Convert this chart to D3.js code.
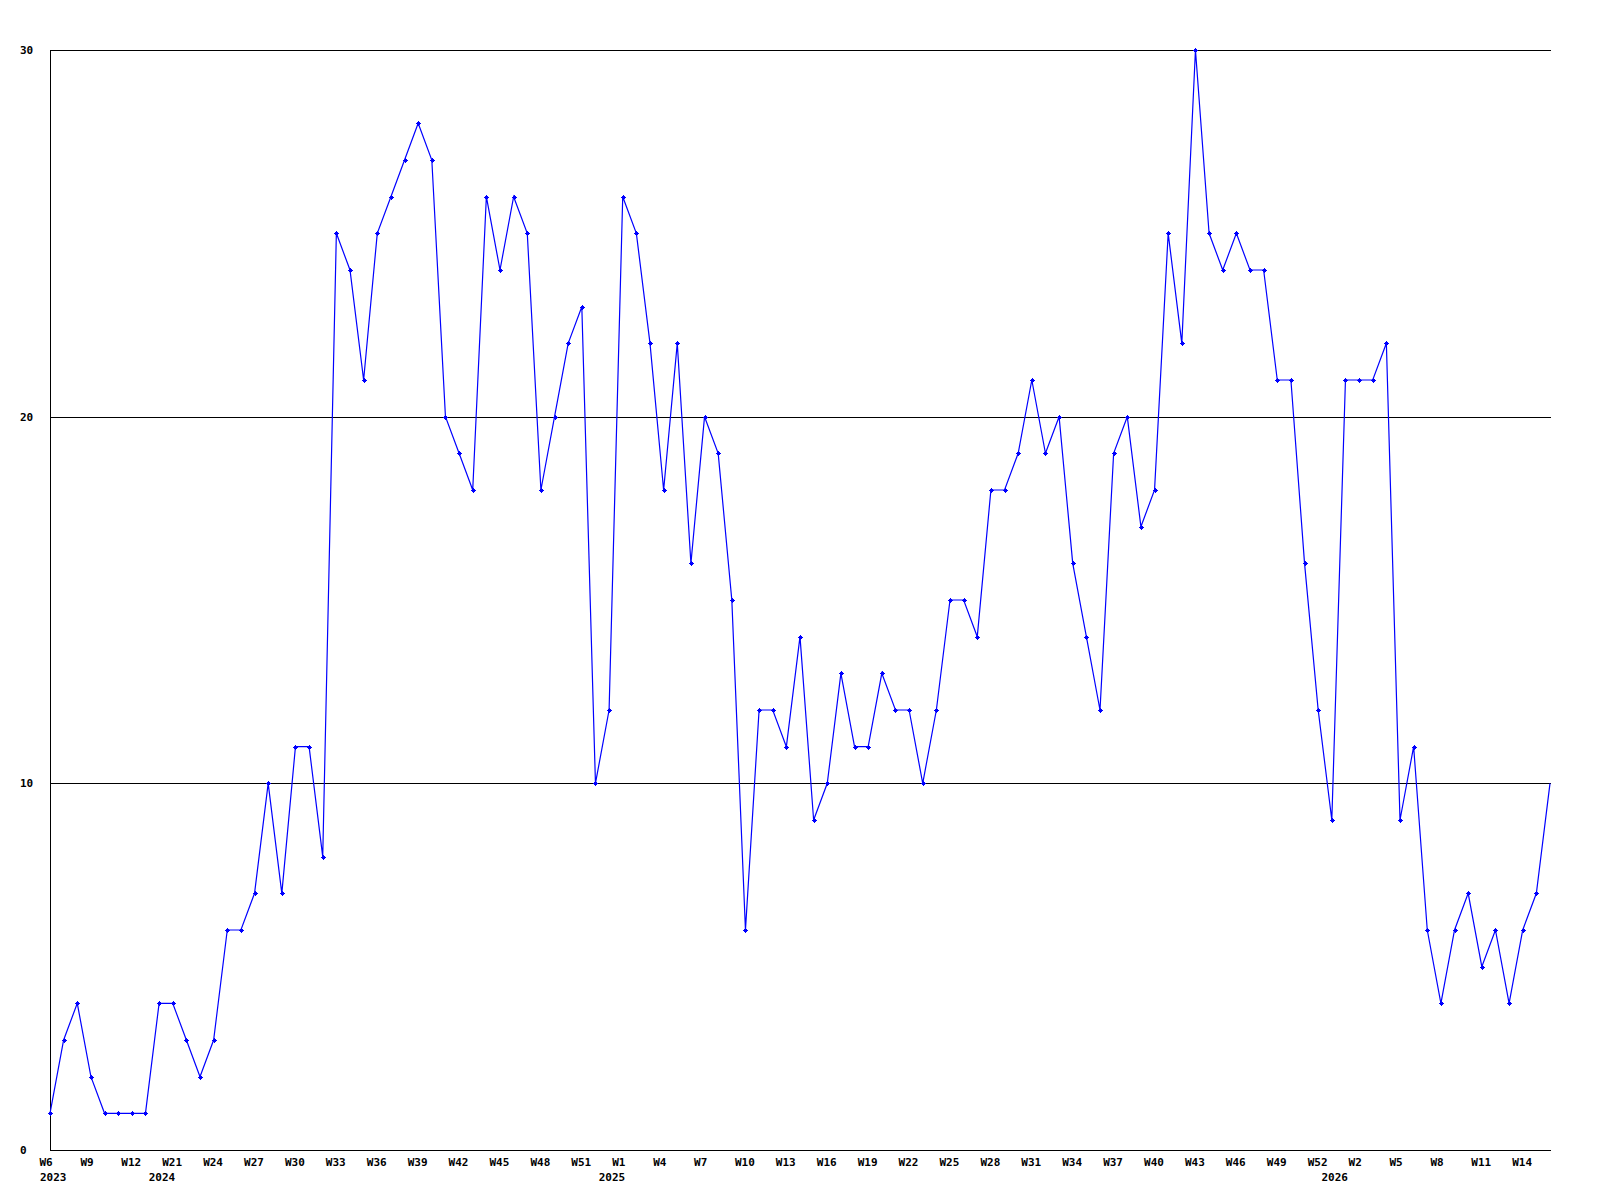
<!DOCTYPE html>
<html>
<head>
<meta charset="utf-8">
<script src="https://cdn.jsdelivr.net/npm/d3@7"></script>
<style>
  html, body { margin: 0; padding: 0; background: #ffffff; }
  svg { display: block; }
  text { font-family: "DejaVu Sans Mono", "Liberation Mono", monospace; font-weight: bold; font-size: 11px; fill: #000; }
</style>
</head>
<body>
<svg id="chart" width="1600" height="1200"></svg>
<script>
// Weekly values (one per point, 111 points)
const values = [
  1, 3, 4, 2, 1, 1, 1, 1, 4, 4,
  3, 2, 3, 6, 6, 7, 10, 7, 11, 11,
  8, 25, 24, 21, 25, 26, 27, 28, 27, 20,
  19, 18, 26, 24, 26, 25, 18, 20, 22, 23,
  10, 12, 26, 25, 22, 18, 22, 16, 20, 19,
  15, 6, 12, 12, 11, 14, 9, 10, 13, 11,
  11, 13, 12, 12, 10, 12, 15, 15, 14, 18,
  18, 19, 21, 19, 20, 16, 14, 12, 19, 20,
  17, 18, 25, 22, 30, 25, 24, 25, 24, 24,
  21, 21, 16, 12, 9, 21, 21, 21, 22, 9,
  11, 6, 4, 6, 7, 5, 6, 4, 6, 7,
  10
];
// Week tick labels, one every 3 points
const weekLabels = ["W6","W9","W12","W21","W24","W27","W30","W33","W36","W39",
  "W42","W45","W48","W51","W1","W4","W7","W10","W13","W16",
  "W19","W22","W25","W28","W31","W34","W37","W40","W43","W46",
  "W49","W52","W2","W5","W8","W11","W14"];
const tickStep = 3;
// Year labels and the point index where each year starts
const yearLabels = ["2023", "2024", "2025", "2026"];
const yearStartIndex = [0, 9, 42, 95];
// Y axis ticks
const yTicks = [0, 10, 20, 30];

const svg = d3.select("#chart");
const plotLeft = 50, plotRight = 1550, plotTop = 50, plotBottom = 1150;

const x = d3.scaleLinear().domain([0, values.length - 1]).range([plotLeft, plotRight]);
const y = d3.scaleLinear().domain([0, 30]).range([plotBottom, plotTop]);
const px = v => Math.round(v) + 0.5;

// horizontal grid lines (10, 20, 30) and bottom axis
svg.append("g").selectAll("line").data(yTicks).join("line")
  .attr("x1", plotLeft).attr("x2", plotRight + 1)
  .attr("y1", d => px(y(d))).attr("y2", d => px(y(d)))
  .attr("stroke", "#000").attr("stroke-width", 1)
  .attr("shape-rendering", "crispEdges");

// vertical axis
svg.append("line")
  .attr("x1", px(plotLeft)).attr("x2", px(plotLeft))
  .attr("y1", plotTop).attr("y2", plotBottom + 1)
  .attr("stroke", "#000").attr("stroke-width", 1)
  .attr("shape-rendering", "crispEdges");

// y labels
svg.append("g").selectAll("text").data(yTicks).join("text")
  .attr("x", 20).attr("y", d => y(d))
  .attr("dy", "0.35em")
  .text(d => d);

// x week labels
svg.append("g").selectAll("text").data(weekLabels).join("text")
  .attr("x", (d, i) => x(i * tickStep) - 10.5)
  .attr("y", 1166)
  .attr("text-anchor", "start")
  .text(d => d);

// year labels
svg.append("g").selectAll("text").data(yearLabels).join("text")
  .attr("x", (d, i) => Math.max(40, x(yearStartIndex[i]) - 24))
  .attr("y", 1181)
  .attr("text-anchor", "start")
  .text(d => d);

// data line
const line = d3.line().x((d, i) => x(i)).y(d => y(d));
svg.append("path")
  .datum(values)
  .attr("d", line)
  .attr("fill", "none")
  .attr("stroke", "#0000ff")
  .attr("stroke-width", 1.2);

// markers (all but the last point)
const marks = svg.append("g").selectAll("g").data(values.slice(0, -1)).join("g")
  .attr("transform", (d, i) => `translate(${Math.round(x(i))},${Math.round(y(d))})`);
marks.append("rect").attr("x", -1).attr("y", -1).attr("width", 3).attr("height", 3).attr("fill", "#0000ff");
marks.append("rect").attr("x", -2).attr("y", 0).attr("width", 5).attr("height", 1).attr("fill", "#0000ff");
marks.append("rect").attr("x", 0).attr("y", -2).attr("width", 1).attr("height", 5).attr("fill", "#0000ff");
</script>
</body>
</html>
